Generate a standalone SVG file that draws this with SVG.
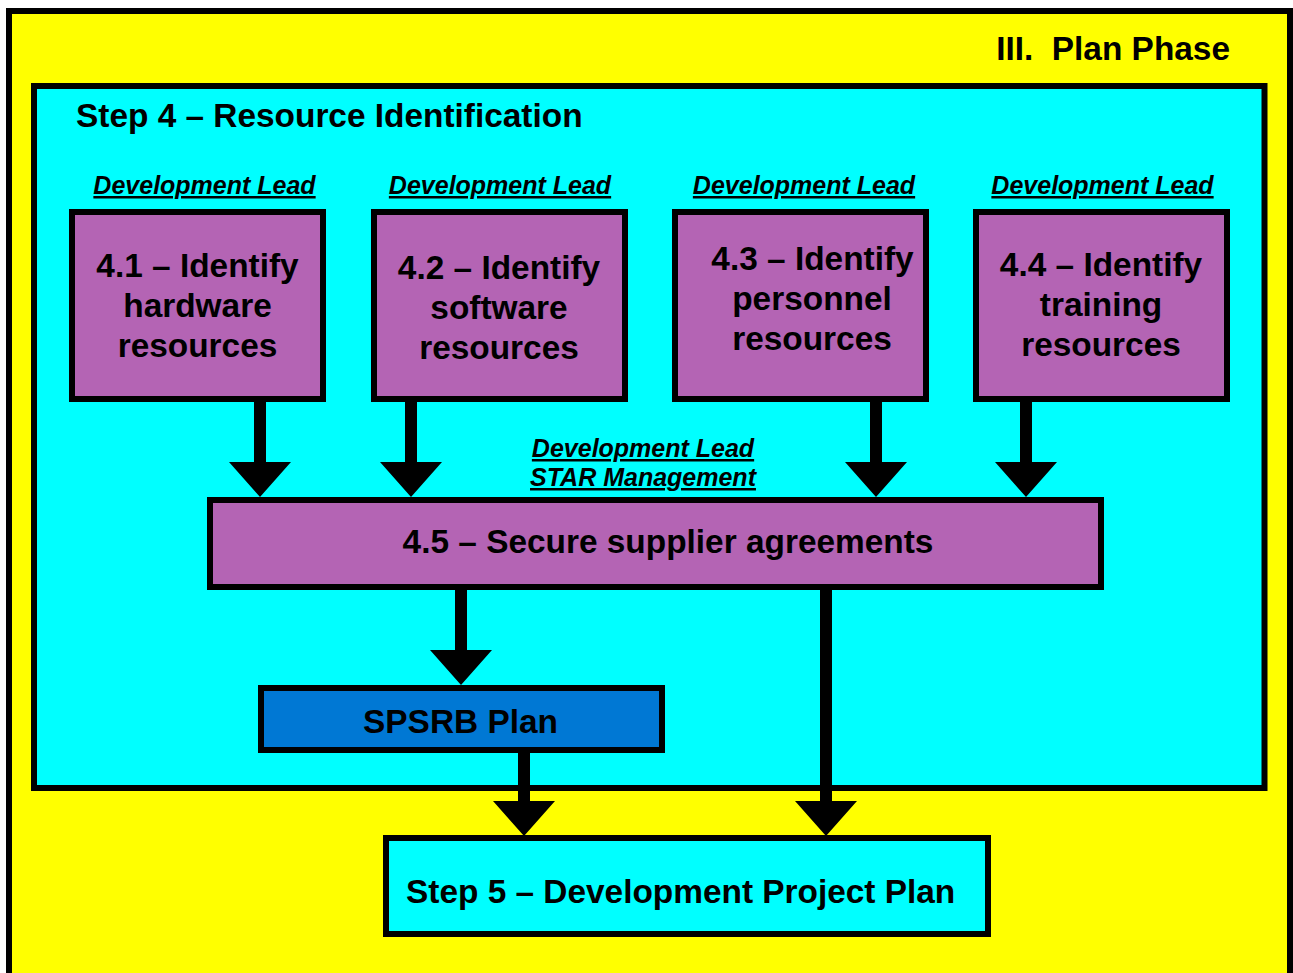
<svg xmlns="http://www.w3.org/2000/svg" width="1293" height="973" viewBox="0 0 1293 973">
<style>
text { font-family: "Liberation Sans", Arial, sans-serif; font-weight: bold; fill: #000; }
.big { font-size: 33.4px; }
.mid { text-anchor: middle; }
.role { font-size: 25px; font-style: italic; text-decoration: underline; text-anchor: middle; }
.box { stroke: #000; stroke-width: 6; }
.task { fill: #B464B4; }
.arrow { fill: #000; }
</style>
<rect x="0" y="0" width="1293" height="973" fill="#FFFFFF"/>
<g id="plan-phase">
  <rect class="box" x="9" y="11" width="1281" height="990" fill="#FFFF00"/>
  <text class="big" x="1230" y="60" text-anchor="end" xml:space="preserve">III.  Plan Phase</text>
</g>
<g id="step4">
  <rect class="box" x="34" y="86" width="1230.5" height="702" fill="#00FFFF"/>
  <text class="big" x="76" y="127">Step 4 – Resource Identification</text>
</g>
<g id="connectors">
  <path class="arrow" d="M254 402 H266 V462 H291 L260 497 L229 462 H254 Z"/>
  <path class="arrow" d="M405 402 H417 V462 H442 L411 497 L380 462 H405 Z"/>
  <path class="arrow" d="M870 402 H882 V462 H907 L876 497 L845 462 H870 Z"/>
  <path class="arrow" d="M1020 402 H1032 V462 H1057 L1026 497 L995 462 H1020 Z"/>
  <path class="arrow" d="M455 590 H467 V650 H492 L461 685 L430 650 H455 Z"/>
  <path class="arrow" d="M518 753 H530 V801 H555 L524 836 L493 801 H518 Z"/>
  <path class="arrow" d="M820 590 H832 V801 H857 L826 836 L795 801 H820 Z"/>
</g>
<g id="node-4-1">
  <text class="role" x="204.5" y="194">Development Lead</text>
  <rect class="box task" x="72" y="212" width="251" height="187"/>
  <text class="big mid" x="197.5" y="277">4.1 – Identify</text>
  <text class="big mid" x="197.5" y="317">hardware</text>
  <text class="big mid" x="197.5" y="357">resources</text>
</g>
<g id="node-4-2">
  <text class="role" x="500" y="194">Development Lead</text>
  <rect class="box task" x="374" y="212" width="251" height="187"/>
  <text class="big mid" x="499" y="279">4.2 – Identify</text>
  <text class="big mid" x="499" y="319">software</text>
  <text class="big mid" x="499" y="359">resources</text>
</g>
<g id="node-4-3">
  <text class="role" x="804" y="194">Development Lead</text>
  <rect class="box task" x="675" y="212" width="251" height="187"/>
  <text class="big mid" x="812.5" y="270">4.3 – Identify</text>
  <text class="big mid" x="812" y="310">personnel</text>
  <text class="big mid" x="812" y="350">resources</text>
</g>
<g id="node-4-4">
  <text class="role" x="1102.5" y="194">Development Lead</text>
  <rect class="box task" x="976" y="212" width="251" height="187"/>
  <text class="big mid" x="1101" y="276">4.4 – Identify</text>
  <text class="big mid" x="1101" y="316">training</text>
  <text class="big mid" x="1101" y="356">resources</text>
</g>
<g id="node-4-5">
  <text class="role" x="643" y="457">Development Lead</text>
  <text class="role" x="643" y="486">STAR Management</text>
  <rect class="box task" x="210" y="500" width="891" height="87"/>
  <text class="big mid" x="668" y="553">4.5 – Secure supplier agreements</text>
</g>
<g id="node-spsrb">
  <rect class="box" x="261" y="688" width="401" height="62" fill="#0078D4"/>
  <text class="big mid" x="460.5" y="733">SPSRB Plan</text>
</g>
<g id="node-step5">
  <rect class="box" x="386" y="838" width="602" height="96" fill="#00FFFF"/>
  <text class="big" x="406" y="903">Step 5 – Development Project Plan</text>
</g>
</svg>
